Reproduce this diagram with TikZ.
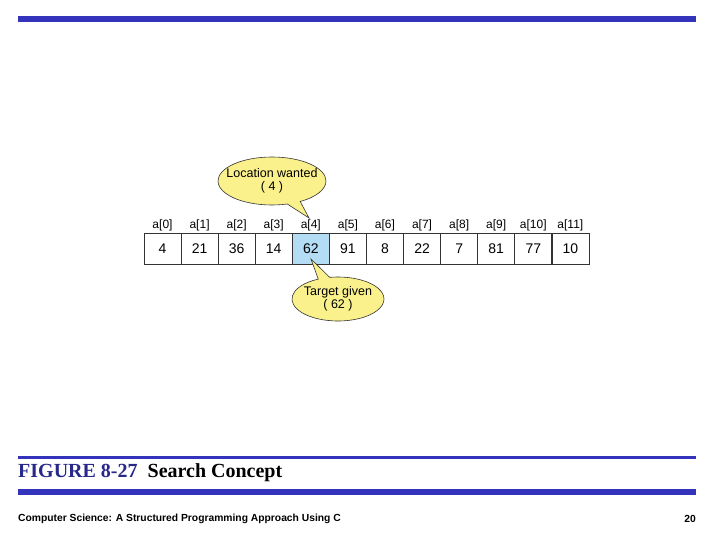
\documentclass[tikz,border=0pt]{standalone}
\usepackage{fontspec}
\setmainfont{Liberation Sans}
\newfontfamily\serifcap{Liberation Serif}
\usetikzlibrary{shapes.callouts}
\definecolor{barblue}{RGB}{51,51,187}
\definecolor{capblue}{RGB}{40,40,140}
\definecolor{bubble}{RGB}{250,240,140}
\definecolor{hilite}{RGB}{180,220,245}
\begin{document}
\begin{tikzpicture}[x=1pt,y=-1pt,
  cell/.style={draw=black!80,line width=0.7pt,minimum width=37pt,minimum height=31pt,inner sep=0pt,font=\fontsize{14}{14}\selectfont},
  idx/.style={font=\fontsize{12}{12}\selectfont,inner sep=0pt},
  bub/.style={ellipse callout,draw=black!80,fill=bubble,line width=0.6pt,align=center,inner xsep=-12pt,inner ysep=-3pt,font=\fontsize{12.5}{13}\selectfont}]
\useasboundingbox (0,0) rectangle (720,540);
\fill[barblue] (18,16) rectangle (696,22);
\fill[barblue] (18,456) rectangle (696,459);
\fill[barblue] (18,489) rectangle (696,495);
\node[anchor=west,inner sep=0pt,font=\serifcap\bfseries\fontsize{20}{20}\selectfont] (cap) at (18,473) {\textcolor{capblue}{FIGURE 8-27}\enspace Search Concept};
\node[anchor=west,inner sep=0pt,font=\bfseries\fontsize{10.3}{11}\selectfont] (foot) at (18,519) {Computer Science: A Structured Programming Approach Using C};
\node[anchor=east,inner sep=0pt,font=\bfseries\fontsize{10.3}{11}\selectfont] (pg) at (696,519) {20};
\foreach \v [count=\i from 0] in {4,21,36,14,62,91,8,22,7,81,77,10}{
  \pgfmathsetmacro\cx{162.5+37.08*\i}
  \ifnum\i=4
    \node[cell,fill=hilite] (c\i) at (\cx,248.5) {\v};
  \else
    \node[cell] (c\i) at (\cx,248.5) {\v};
  \fi
  \node[idx] (l\i) at (\cx,225) {a[\i]};
}
\node[bub,minimum width=108pt,minimum height=48pt,callout absolute pointer={(309,218)}] (loc) at (272,181) {Location wanted\\( 4 )};
\node[bub,minimum width=92pt,minimum height=44pt,callout absolute pointer={(311,259)}] (tgt) at (338,299) {Target given\\( 62 )};
\end{tikzpicture}
\end{document}
